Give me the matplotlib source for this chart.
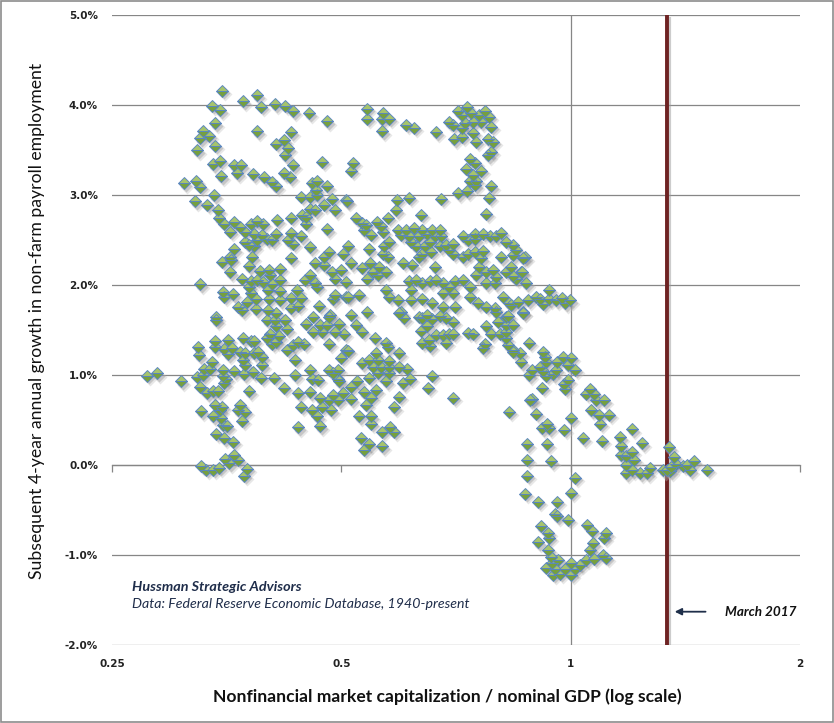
import matplotlib
matplotlib.use("Agg")
import matplotlib.pyplot as plt
from matplotlib.ticker import FixedLocator, FuncFormatter, NullLocator
from matplotlib.transforms import offset_copy, blended_transform_factory
from matplotlib.patches import Rectangle
from matplotlib import font_manager

# ---------------- data: (market cap / GDP, subsequent 4y payroll growth %) ----------------
cluster_upper_left = [
    (0.349,4.16),(0.387,4.11),(0.371,4.04),(0.338,3.99),(0.346,3.94),(0.392,3.98),(0.409,4.01),(0.422,3.99),
    (0.432,3.93),(0.453,3.91),(0.479,3.82),(0.341,3.80),(0.329,3.71),(0.335,3.66),(0.326,3.63),(0.323,3.50),
    (0.341,3.55),(0.388,3.71),(0.430,3.70),(0.421,3.61),(0.410,3.57),(0.426,3.52),(0.422,3.44),(0.432,3.33),
    (0.472,3.37),(0.339,3.34),(0.346,3.38),(0.361,3.33),(0.369,3.33),(0.365,3.24),(0.348,3.21),(0.383,3.23),
    (0.396,3.20),(0.420,3.24),(0.428,3.20),(0.406,3.14),(0.411,3.10),(0.311,3.13),(0.322,3.16),(0.326,3.09),
    (0.340,3.00),(0.321,2.93),(0.333,2.89),(0.344,2.83),(0.457,3.13),(0.465,3.16),(0.479,3.10),(0.463,3.06),
    (0.442,2.98),(0.455,2.98),(0.464,3.00),(0.486,2.96),(0.507,2.94),(0.475,2.89),(0.491,2.83),(0.455,2.85),
    (0.462,2.83),(0.444,2.78),(0.450,2.76),(0.430,2.75),(0.449,2.68),(0.412,2.72),(0.479,2.62),(0.345,2.74),
    (0.351,2.68),(0.357,2.59),(0.361,2.70),(0.368,2.65),(0.374,2.59),(0.380,2.68),(0.387,2.71),(0.395,2.68),
    (0.384,2.57),(0.393,2.56),(0.374,2.48),(0.387,2.50),(0.399,2.51),(0.405,2.50),(0.410,2.57),(0.384,2.43),
    (0.378,2.44),(0.430,2.58),(0.425,2.50),(0.432,2.46),(0.443,2.54),(0.455,2.42),(0.362,2.40),(0.357,2.31),
    (0.349,2.26),(0.358,2.28),(0.382,2.31),(0.378,2.21),(0.430,2.30),(0.481,2.37),(0.474,2.31),(0.462,2.24),
    (0.474,2.22),(0.502,2.35),(0.357,2.14),(0.391,2.16),(0.402,2.17),(0.416,2.18),(0.370,2.07),(0.380,2.04),
    (0.387,2.06),(0.395,2.03),(0.406,2.01),(0.416,2.06),(0.403,2.11),(0.448,2.06),(0.455,2.11),(0.462,2.02),
    (0.486,2.14),(0.490,2.07),(0.499,2.17),(0.464,1.98),(0.326,2.01),(0.350,1.92),(0.360,1.90),(0.351,1.87),
    (0.378,1.98),(0.380,1.91),(0.376,1.81),(0.386,1.84),(0.366,1.76),(0.370,1.72),(0.386,1.73),(0.401,1.94),
    (0.402,1.85),(0.416,1.93),(0.416,1.83),(0.400,1.72),(0.411,1.69),(0.437,1.94),(0.429,1.86),(0.442,1.86),
    (0.439,1.77),(0.430,1.74),(0.467,1.77),(0.488,1.84),(0.490,1.89),(0.507,1.87),(0.483,1.67),(0.342,1.64),
]

cluster_lower_left = [
    (0.278,0.99),(0.286,1.02),(0.308,0.93),(0.342,1.61),(0.324,1.31),(0.325,1.22),(0.341,1.38),(0.341,1.31),
    (0.355,1.39),(0.351,1.29),(0.355,1.23),(0.359,1.30),(0.372,1.41),(0.380,1.38),(0.384,1.38),(0.368,1.26),
    (0.374,1.24),(0.372,1.17),(0.384,1.24),(0.393,1.20),(0.389,1.26),(0.393,1.11),(0.374,1.11),(0.338,1.15),
    (0.330,1.07),(0.336,1.07),(0.323,0.98),(0.329,1.00),(0.350,1.06),(0.362,1.04),(0.353,0.96),(0.350,0.99),
    (0.351,0.91),(0.373,1.01),(0.383,1.03),(0.392,0.97),(0.408,0.97),(0.420,0.86),(0.435,1.00),(0.455,1.06),
    (0.457,0.96),(0.466,0.95),(0.439,0.80),(0.455,0.81),(0.442,0.65),(0.457,0.61),(0.464,0.54),(0.469,0.43),
    (0.439,0.42),(0.471,0.65),(0.484,0.61),(0.469,0.74),(0.481,0.72),(0.495,0.72),(0.488,0.78),(0.502,0.80),
    (0.481,1.06),(0.495,1.06),(0.495,0.96),(0.488,1.02),(0.499,1.19),(0.326,0.87),(0.333,0.80),(0.339,0.82),
    (0.344,0.82),(0.378,0.82),(0.327,0.60),(0.339,0.54),(0.341,0.67),(0.347,0.61),(0.349,0.65),(0.348,0.52),
    (0.350,0.44),(0.354,0.43),(0.366,0.61),(0.368,0.67),(0.374,0.59),(0.370,0.49),(0.342,0.35),(0.351,0.30),
    (0.360,0.26),(0.361,0.11),(0.352,0.07),(0.366,0.06),(0.356,0.02),(0.327,-0.01),(0.332,-0.05),(0.339,-0.05),
    (0.345,-0.03),(0.376,-0.04),(0.373,-0.12),
    (0.399,1.61),(0.409,1.61),(0.422,1.61),(0.411,1.54),(0.403,1.46),(0.414,1.43),(0.399,1.41),(0.424,1.51),
    (0.405,1.35),(0.411,1.37),(0.424,1.28),(0.432,1.33),(0.439,1.37),(0.446,1.35),(0.435,1.17),(0.450,1.57),
    (0.459,1.65),(0.469,1.56),(0.481,1.65),(0.479,1.56),(0.490,1.48),(0.481,1.35),(0.497,1.57),(0.504,1.46),
    (0.507,1.28),(0.471,1.48),(0.459,1.48),
]

cluster_upper_mid = [
    (0.541,3.96),(0.541,3.85),(0.567,3.91),(0.566,3.84),(0.577,3.85),(0.565,3.71),(0.608,3.78),(0.623,3.75),
    (0.666,3.70),(0.518,3.36),(0.515,3.27),(0.692,3.81),(0.711,3.93),(0.731,3.98),(0.719,3.89),(0.741,3.91),
    (0.759,3.89),(0.771,3.93),(0.781,3.87),(0.763,3.81),(0.744,3.81),(0.726,3.80),(0.700,3.78),(0.719,3.74),
    (0.787,3.76),(0.744,3.69),(0.721,3.65),(0.702,3.62),(0.751,3.59),(0.779,3.62),(0.791,3.59),(0.785,3.48),
    (0.779,3.44),(0.737,3.40),(0.748,3.36),(0.729,3.29),(0.763,3.27),(0.744,3.22),(0.738,3.16),(0.751,3.16),
    (0.748,3.11),(0.785,3.10),(0.711,3.02),(0.731,3.04),(0.781,2.97),(0.775,2.79),(0.508,2.93),(0.591,2.95),
    (0.614,2.97),(0.676,2.96),(0.589,2.83),(0.575,2.75),(0.636,2.78),(0.522,2.74),(0.533,2.69),(0.539,2.67),
    (0.557,2.70),(0.564,2.66),(0.536,2.61),(0.547,2.56),(0.567,2.59),(0.593,2.61),(0.608,2.61),(0.599,2.56),
    (0.614,2.54),(0.623,2.63),(0.639,2.61),(0.648,2.57),(0.657,2.61),(0.673,2.61),(0.663,2.54),(0.676,2.54),
    (0.633,2.54),(0.617,2.48),(0.627,2.43),(0.643,2.43),(0.653,2.48),(0.639,2.35),(0.655,2.37),(0.633,2.31),
    (0.673,2.43),(0.686,2.44),(0.700,2.46),(0.693,2.39),(0.700,2.35),(0.722,2.54),(0.733,2.50),(0.748,2.57),
    (0.767,2.57),(0.783,2.54),(0.799,2.54),(0.809,2.58),(0.748,2.51),(0.722,2.31),(0.733,2.35),(0.748,2.37),
    (0.767,2.38),(0.823,2.48),(0.839,2.44),(0.848,2.39),(0.839,2.33),(0.811,2.31),(0.870,2.31),(0.763,2.30),
    (0.663,2.20),(0.510,2.43),(0.515,2.24),(0.544,2.40),(0.569,2.43),(0.577,2.48),(0.567,2.35),(0.575,2.31),
    (0.533,2.19),(0.545,2.24),(0.550,2.15),(0.561,2.20),(0.541,2.07),(0.558,2.11),(0.572,2.15),(0.602,2.25),
    (0.619,2.22),(0.507,2.03),(0.614,2.04),(0.627,2.06),(0.639,2.02),(0.653,2.04),(0.666,2.06),(0.680,2.02),
    (0.693,1.98),(0.704,2.04),(0.722,2.06),(0.737,1.98),(0.751,2.11),(0.759,2.20),(0.775,2.15),(0.791,2.17),
    (0.799,2.09),(0.823,2.15),(0.848,2.07),(0.861,2.15),(0.874,2.02),(0.775,2.02),(0.795,2.02),(0.572,1.94),
    (0.578,1.87),(0.593,1.83),(0.617,1.94),(0.617,1.83),(0.639,1.85),(0.657,1.80),(0.680,1.91),(0.700,1.91),
    (0.680,1.76),(0.704,1.76),(0.737,1.87),(0.755,1.80),(0.775,1.76),(0.795,1.74),(0.815,1.87),(0.831,1.80),
    (0.852,1.81),(0.878,1.83),(0.901,1.87),(0.510,1.87),(0.528,1.89),(0.541,1.70),(0.515,1.67),(0.599,1.70),
    (0.633,1.65),(0.823,1.65),
    (0.866,2.30),(0.835,2.20),(0.839,2.10),(0.864,2.14),(0.936,1.95),(0.835,1.78),(0.866,1.70),(0.912,1.84),
    (0.919,1.79),(0.938,1.84),(0.958,1.83),(0.975,1.86),(0.982,1.80),(0.997,1.83),
]

cluster_lower_mid = [
    (0.522,1.56),(0.533,1.48),(0.553,1.41),(0.572,1.36),(0.575,1.31),(0.510,1.27),(0.595,1.24),(0.555,1.24),
    (0.533,1.13),(0.544,1.17),(0.558,1.17),(0.578,1.16),(0.550,1.09),(0.564,1.09),(0.578,1.09),(0.595,1.09),
    (0.609,1.07),(0.558,1.02),(0.578,1.02),(0.543,0.97),(0.572,0.93),(0.603,0.91),(0.615,0.96),(0.657,0.99),
    (0.650,0.86),(0.525,0.93),(0.515,0.87),(0.497,0.93),(0.535,0.81),(0.555,0.83),(0.547,0.75),(0.515,0.73),
    (0.539,0.67),(0.595,0.76),(0.586,0.64),(0.528,0.54),(0.547,0.54),(0.547,0.46),(0.565,0.37),(0.580,0.42),
    (0.586,0.37),(0.531,0.30),(0.544,0.23),(0.536,0.17),(0.565,0.21),(0.701,0.75),(0.829,0.59),(0.881,1.36),
    (0.890,1.06),(0.881,1.00),(0.890,0.73),(0.901,0.57),(0.876,0.23),(0.876,0.06),(0.876,-0.12),
    (0.638,1.63),(0.648,1.67),(0.657,1.62),(0.673,1.66),(0.686,1.63),(0.700,1.59),(0.636,1.49),(0.648,1.54),
    (0.666,1.44),(0.680,1.44),(0.693,1.46),(0.700,1.46),(0.639,1.36),(0.653,1.32),(0.651,1.39),(0.686,1.36),
    (0.733,1.47),(0.744,1.46),(0.775,1.54),(0.803,1.59),(0.823,1.56),(0.839,1.56),(0.787,1.46),(0.807,1.46),
    (0.771,1.35),(0.767,1.30),(0.823,1.41),(0.827,1.33),(0.839,1.28),(0.857,1.24),(0.861,1.14),(0.799,1.70),
    (0.866,1.69),(0.827,1.66),(0.596,1.69),(0.605,1.63),
]

cluster_right = [
    (0.823,1.48),(0.839,1.26),(0.921,1.26),(0.924,1.20),(0.929,1.15),(0.912,1.09),(0.959,1.15),(0.977,1.20),
    (1.002,1.19),(0.992,1.11),(1.012,1.06),(0.919,1.04),(0.948,1.01),(0.958,1.06),(0.929,0.99),(0.992,0.94),
    (0.979,0.90),(0.982,0.85),(0.917,0.86),(0.885,0.72),(0.917,0.41),(0.936,0.41),(0.930,0.46),(0.980,0.39),
    (1.002,0.52),(0.930,0.23),(0.941,0.04),(1.012,-0.14),(0.872,-0.32),(1.000,-0.31),(0.907,-0.41),(0.959,-0.41),
    (0.955,-0.54),(0.959,-0.57),(0.992,-0.61),(0.914,-0.68),(0.933,-0.75),(0.936,-0.81),(0.905,-0.86),(0.933,-0.94),
    (0.943,-1.02),(0.962,-1.05),(0.929,-1.14),(0.953,-1.15),(0.948,-1.22),(0.967,-1.21),(0.982,-1.15),(1.002,-1.09),
    (1.002,-1.22),(1.012,-1.15),(1.028,-1.11),(1.048,-1.05),(1.074,-1.04),(1.101,-1.00),(1.112,-1.03),(1.059,-0.94),
    (1.069,-0.87),(1.106,-0.81),(1.114,-0.76),(1.050,-0.67),(1.067,-0.73),(0.946,-1.09),
    (1.046,0.79),(1.061,0.85),(1.072,0.79),(1.080,0.72),(1.106,0.72),(1.062,0.61),(1.089,0.56),(1.124,0.56),
    (1.092,0.46),(1.038,0.30),(1.098,0.27),(1.202,0.40),(1.162,0.31),(1.166,0.21),(1.239,0.24),(1.166,0.11),
    (1.183,0.10),(1.202,0.15),(1.210,0.06),(1.183,0.00),(1.183,-0.09),(1.205,-0.06),(1.233,-0.09),(1.271,-0.03),
    (1.258,-0.09),(1.320,-0.06),(1.350,-0.07),(1.347,0.20),(1.365,0.09),(1.376,0.01),(1.403,-0.01),(1.423,0.00),
    (1.435,-0.06),(1.452,0.04),(1.508,-0.05),(1.336,-0.05),(1.356,-0.02),
]

march_2017_value = 1.336
arrow_y = -1.63
arrow_tail_x = 1.516
arrow_head_x = 1.358
label_x = 1.594
x_ticks = [0.25, 0.5, 1, 2]
x_tick_labels = ["0.25", "0.5", "1", "2"]
y_ticks = [-2, -1, 0, 1, 2, 3, 4, 5]

x_label = "Nonfinancial market capitalization / nominal GDP (log scale)"
y_label = "Subsequent 4-year annual growth in non-farm payroll employment"
credit_1 = "Hussman Strategic Advisors"
credit_2 = "Data: Federal Reserve Economic Database, 1940-present"
marker_label = "March 2017"

# ---------------- fonts ----------------
names = {f.name for f in font_manager.fontManager.ttflist}
humanist = "Lato" if "Lato" in names else ("Liberation Sans" if "Liberation Sans" in names else "DejaVu Sans")
fam = [humanist, "DejaVu Sans"]

all_pts = cluster_upper_left + cluster_lower_left + cluster_upper_mid + cluster_lower_mid + cluster_right
xs = [p[0] for p in all_pts]
ys = [p[1] for p in all_pts]

W, H = 834, 723
fig = plt.figure(figsize=(W / 100, H / 100), dpi=100)
fig.patch.set_facecolor("white")
ax = fig.add_axes([112 / W, 1 - 645 / H, 688 / W, 630 / H])
ax.set_xscale("log", base=2)
ax.set_xlim(0.25, 2)
ax.set_ylim(-2, 5)

for s in ax.spines.values():
    s.set_visible(False)

grid_c = "#868686"
ax.set_axisbelow(True)
ax.yaxis.set_major_locator(FixedLocator(y_ticks))
ax.yaxis.set_major_formatter(FuncFormatter(lambda v, p: f"{v:.1f}%"))
ax.tick_params(axis="y", length=0, pad=10, labelsize=7.5, labelcolor="#222222")
for lab in ax.get_yticklabels():
    lab.set_fontweight("bold")
ax.grid(axis="y", color=grid_c, lw=0.9, zorder=0)
ax.axvline(1, color=grid_c, lw=0.9, zorder=0.5)

ax.xaxis.set_major_locator(FixedLocator(x_ticks))
ax.xaxis.set_minor_locator(NullLocator())
ax.xaxis.set_major_formatter(FuncFormatter(lambda v, p: x_tick_labels[x_ticks.index(v)] if v in x_ticks else ""))
ax.tick_params(axis="x", which="both", length=0, pad=10, labelsize=7.5, labelcolor="#222222")
for lab in ax.get_xticklabels():
    lab.set_fontweight("bold")

# horizontal axis crossing at 0 with outward tick marks
sec = ax.secondary_xaxis((0 - (-2)) / 7.0)
sec.xaxis.set_major_locator(FixedLocator(x_ticks))
sec.xaxis.set_minor_locator(NullLocator())
sec.tick_params(axis="x", which="major", direction="out", length=5, width=0.9, color=grid_c, labelbottom=False)
sec.tick_params(axis="x", which="minor", length=0)
sec.spines["bottom"].set_color(grid_c)
sec.spines["bottom"].set_linewidth(0.9)

# March 2017 line with shadow
vline_tr = blended_transform_factory(ax.transData, ax.transAxes)
shadow_tr = offset_copy(vline_tr, fig=fig, x=2.5, y=-2.0, units="dots")
ax.plot([march_2017_value, march_2017_value], [0, 1], color="#9a9a9a", lw=3.0, alpha=0.5,
        zorder=3, transform=shadow_tr, solid_capstyle="butt")
ax.axvline(march_2017_value, color="#6E2323", lw=2.8, zorder=4, solid_capstyle="butt")

# scatter: soft shadows then two-tone diamonds
sh1 = offset_copy(ax.transData, fig=fig, x=3.0, y=-3.5, units="dots")
sh2 = offset_copy(ax.transData, fig=fig, x=2.0, y=-2.5, units="dots")
ax.plot(xs, ys, ls="none", marker="D", ms=7.2, mfc="#bdbdbd", mec="none", alpha=0.35, transform=sh1, zorder=5)
ax.plot(xs, ys, ls="none", marker="D", ms=6.0, mfc="#8a8a8a", mec="none", alpha=0.35, transform=sh2, zorder=5)
ax.plot(xs, ys, ls="none", marker="D", ms=6.0, fillstyle="top",
        mfc="#A6C46C", mfcalt="#76A03E", mec="#5A86C2", mew=0.65, zorder=6)

# annotations
ax.annotate("", xy=(arrow_head_x, arrow_y), xytext=(arrow_tail_x, arrow_y),
            arrowprops=dict(arrowstyle="-|>", color="#1F2F4A", lw=1.3, mutation_scale=10), zorder=7)
t_march = ax.text(label_x, arrow_y, marker_label, fontsize=10, fontstyle="italic", fontweight="bold",
                  family=fam, color="#111111", va="center", ha="left", zorder=7)
t_c1 = ax.text(0.029, 0.092, credit_1, transform=ax.transAxes, fontsize=9.5, fontstyle="italic",
               fontweight="bold", family=fam, color="#1F2D4A", va="center", ha="left")
t_c2 = ax.text(0.029, 0.065, credit_2, transform=ax.transAxes, fontsize=9.5, fontstyle="italic",
               family=fam, color="#1F2D4A", va="center", ha="left")

t_x = fig.text(447 / W, 1 - 697 / H, x_label, fontsize=13.5, fontweight="bold", family=fam,
               ha="center", va="center", color="#111111")
t_y = fig.text(37 / W, 1 - 321 / H, y_label, fontsize=13.5, fontweight="normal", family=fam,
               ha="center", va="center", rotation=90, color="#111111")

# fit text sizes to the reference extents (pixels)
fig.canvas.draw()
rend = fig.canvas.get_renderer()
for t, target, vertical in [(t_march, 71, False), (t_c1, 170, False), (t_c2, 339, False),
                            (t_x, 466, False), (t_y, 518, True)]:
    bb = t.get_window_extent(rend)
    cur = bb.height if vertical else bb.width
    t.set_fontsize(t.get_fontsize() * target / cur)

fig.patches.append(Rectangle((0.0006, 0.0007), 0.9988, 0.9986, transform=fig.transFigure, fill=False,
                             edgecolor="#8C8C8C", lw=1.2))

fig.savefig("out.png", dpi=100, facecolor="white")
